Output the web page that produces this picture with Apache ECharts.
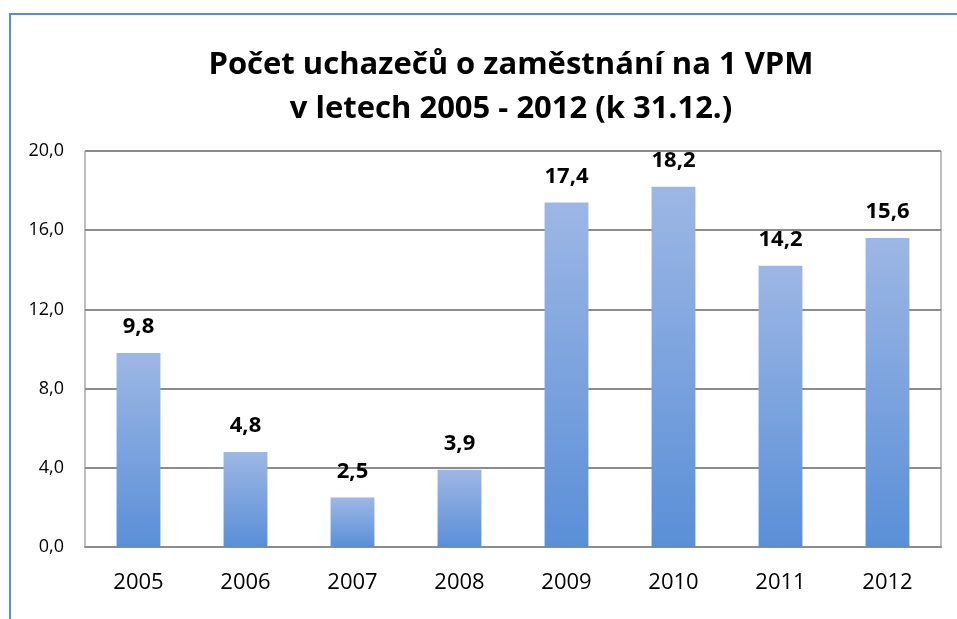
<!DOCTYPE html>
<html>
<head>
<meta charset="utf-8">
<script src="https://cdn.jsdelivr.net/npm/echarts@6/dist/echarts.min.js"></script>
<style>
  html, body {margin: 0; padding: 0; background: #fff;}
  #frame {position: absolute; left: 9px; top: 13px; width: 960px; height: 620px; border: 2px solid #5b8ed6; box-sizing: border-box;}
  #chart {position: absolute; left: 0; top: 0; width: 957px; height: 619px;}
</style>
</head>
<body>
<div id="frame"></div>
<div id="chart"></div>
<script>
// data
const years = ['2005', '2006', '2007', '2008', '2009', '2010', '2011', '2012'];
const applicantsPerVacancy = [9.8, 4.8, 2.5, 3.9, 17.4, 18.2, 14.2, 15.6];
const titleLines = ['Počet uchazečů o zaměstnání na 1 VPM', 'v letech 2005 - 2012 (k 31.12.)'];

const fmt = v => v.toFixed(1).replace('.', ',');

const myChart = echarts.init(document.getElementById('chart'));
myChart.setOption({
  animation: false,
  textStyle: {fontFamily: 'Open Sans, Liberation Sans, sans-serif'},
  title: {
    text: titleLines.join('\n'),
    left: 506,
    top: 38,
    textAlign: 'center',
    textStyle: {
      fontFamily: 'Open Sans',
      fontWeight: 'bold',
      fontSize: 31,
      lineHeight: 44,
      color: '#000'
    }
  },
  grid: {
    left: 85,
    top: 151,
    width: 856,
    height: 396,
    show: true,
    borderColor: '#7f7f7f',
    borderWidth: 1,
    containLabel: false
  },
  xAxis: {
    type: 'category',
    data: years,
    axisLine: {lineStyle: {color: '#8c8c8c', width: 2}},
    axisTick: {show: false},
    axisLabel: {color: '#000', fontSize: 22, margin: 25}
  },
  yAxis: {
    type: 'value',
    min: 0,
    max: 20,
    interval: 4,
    axisLine: {show: false},
    axisTick: {show: false},
    splitLine: {lineStyle: {color: '#8c8c8c', width: 2}},
    axisLabel: {color: '#000', fontSize: 18, margin: 21, formatter: fmt}
  },
  series: [{
    type: 'bar',
    data: applicantsPerVacancy,
    barWidth: '41%',
    itemStyle: {
      color: new echarts.graphic.LinearGradient(0, 0, 0, 1, [
        {offset: 0, color: '#9db7e5'},
        {offset: 1, color: '#5a8fd7'}
      ])
    },
    label: {
      show: true,
      position: 'top',
      distance: 15,
      color: '#000',
      fontWeight: 'bold',
      fontSize: 22,
      formatter: p => fmt(p.value)
    }
  }]
});
</script>
</body>
</html>
